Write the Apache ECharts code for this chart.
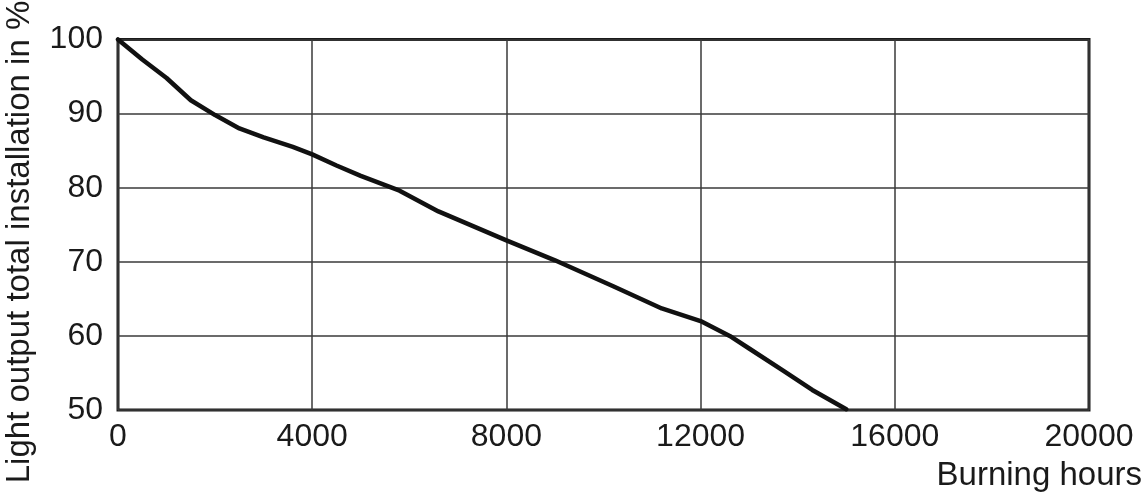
<!DOCTYPE html>
<html>
<head>
<meta charset="utf-8">
<script src="https://cdn.jsdelivr.net/npm/echarts@6/dist/echarts.min.js"></script>
<style>
html,body{margin:0;padding:0;background:#fff;}
#chart{width:1144px;height:500px;}
</style>
</head>
<body>
<div id="chart"></div>
<script>
const hours = [0, 500, 1000, 1500, 2000, 2500, 3000, 3600, 4000, 4500, 5000, 5800, 6600, 8000, 9000, 10200, 11200, 12000, 12600, 13000, 13700, 14300, 15000];
const lightOutput = [100, 97.3, 94.8, 91.8, 89.8, 88, 86.8, 85.5, 84.5, 83, 81.6, 79.6, 76.8, 72.9, 70.2, 66.7, 63.7, 62, 60, 58.3, 55.3, 52.7, 50.1];
const xTicks = [0, 4000, 8000, 12000, 16000, 20000];
const yTicks = [50, 60, 70, 80, 90, 100];
const yTitle = 'Light output total installation in %';
const xTitle = 'Burning hours';

const chart = echarts.init(document.getElementById('chart'));
const font = 'Liberation Sans';
chart.setOption({
  animation: false,
  backgroundColor: '#fff',
  grid: {
    left: 118, right: 55, top: 39.5, bottom: 90,
    show: true, borderColor: '#1a1a1a', borderWidth: 3, containLabel: false
  },
  xAxis: {
    type: 'value', min: xTicks[0], max: xTicks[xTicks.length - 1], interval: 4000,
    axisLine: { show: false },
    axisTick: { show: false },
    splitLine: { show: true, lineStyle: { color: '#3a3a3a', width: 1.5 } },
    axisLabel: { color: '#1a1a1a', fontFamily: font, fontSize: 32, margin: 11, formatter: v => String(v) }
  },
  yAxis: {
    type: 'value', min: yTicks[0], max: yTicks[yTicks.length - 1], interval: 10,
    axisLine: { show: false },
    axisTick: { show: false },
    splitLine: { show: true, lineStyle: { color: '#3a3a3a', width: 1.5 } },
    axisLabel: { color: '#1a1a1a', fontFamily: font, fontSize: 32, margin: 15, formatter: v => String(v) }
  },
  graphic: [
    {
      type: 'text', x: 20, y: 242, rotation: Math.PI / 2,
      style: { text: yTitle, fill: '#1a1a1a', font: '33px "Liberation Sans"', textAlign: 'center', textVerticalAlign: 'middle' }
    },
    {
      type: 'text', right: 2, top: 459,
      style: { text: xTitle, fill: '#1a1a1a', font: '33px "Liberation Sans"' }
    }
  ],
  series: [{
    type: 'line',
    data: hours.map((h, i) => [h, lightOutput[i]]),
    showSymbol: false,
    lineStyle: { color: '#111', width: 4.5, cap: 'round', join: 'round' },
    clip: false
  }]
});
</script>
</body>
</html>
